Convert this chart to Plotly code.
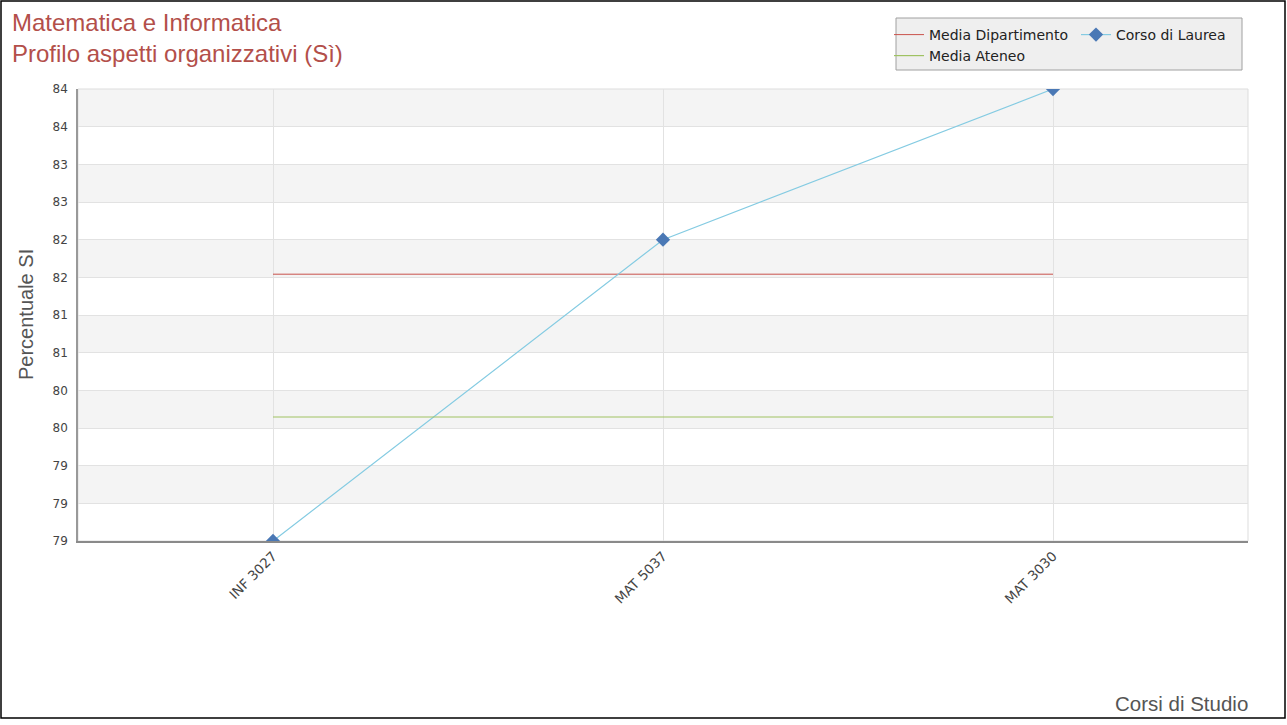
import plotly.graph_objects as go

# ---- data ----
categories = ["INF 3027", "MAT 5037", "MAT 3030"]
corso_di_laurea = [78.50, 82.34, 84.26]
media_dipartimento = [81.90, 81.90, 81.90]
media_ateneo = [80.08, 80.08, 80.08]

ytick_vals = [78.5, 78.98, 79.46, 79.94, 80.42, 80.9, 81.38, 81.86, 82.34, 82.82, 83.3, 83.78, 84.26]
ytick_text = ["79", "79", "79", "80", "80", "81", "81", "82", "82", "83", "83", "84", "84"]

title_lines = ["Matematica e Informatica", "Profilo aspetti organizzativi (Sì)"]

W, H = 1287, 725
L, R, T, B = 78, 39, 89, 184
PW, PH = W - L - R, H - T - B


def px(xp):
    return (xp - L) / PW


def py(yp):
    return (H - B - yp) / PH


fig = go.Figure()

fig.add_trace(go.Scatter(
    x=categories, y=media_dipartimento, mode="lines", name="Media Dipartimento",
    line=dict(color="#c9524c", width=1), legend="legend"))
fig.add_trace(go.Scatter(
    x=categories, y=corso_di_laurea, mode="lines+markers", name="Corso di Laurea",
    line=dict(color="#84cbe2", width=1.2),
    marker=dict(symbol="diamond", size=11, color="#4a78b5"), legend="legend2"))
fig.add_trace(go.Scatter(
    x=categories, y=media_ateneo, mode="lines", name="Media Ateneo",
    line=dict(color="#9fc262", width=1.2), legend="legend3"))

shapes = []
# alternating bands
for k in range(1, len(ytick_vals) - 1, 2):
    shapes.append(dict(type="rect", xref="paper", yref="y", x0=0, x1=1,
                       y0=ytick_vals[k], y1=ytick_vals[k + 1],
                       fillcolor="#f4f4f4", line=dict(width=0), layer="below"))
# plot border (light)
shapes.append(dict(type="rect", xref="paper", yref="paper", x0=0, x1=1, y0=0, y1=1,
                   line=dict(color="#dddddd", width=1), layer="below"))
# legend box
shapes.append(dict(type="rect", xref="paper", yref="paper",
                   x0=px(896), x1=px(1242), y0=py(70), y1=py(18),
                   fillcolor="#efefef", line=dict(color="#a0a0a0", width=1)))
# outer frame
shapes.append(dict(type="rect", xref="paper", yref="paper",
                   x0=px(1), x1=px(1285), y0=py(718), y1=py(1),
                   line=dict(color="#000000", width=1.5)))

annotations = [
    dict(text="<br>".join(title_lines), xref="paper", yref="paper",
         x=px(10), y=py(7), xanchor="left", yanchor="top", align="left",
         showarrow=False, font=dict(family="Liberation Sans, Arial", size=24, color="#b34f4a")),
    dict(text="Percentuale SI", xref="paper", yref="paper", x=px(26), y=py(315),
         xanchor="center", yanchor="middle", textangle=-90, showarrow=False,
         font=dict(family="Liberation Sans, Arial", size=20, color="#555555")),
    dict(text="Corsi di Studio", xref="paper", yref="paper", x=px(1250), y=py(703),
         xanchor="right", yanchor="middle", showarrow=False,
         font=dict(family="Liberation Sans, Arial", size=20.5, color="#555555")),
]

leg_font = dict(family="DejaVu Sans", size=14, color="#222222")
leg_common = dict(bgcolor="rgba(0,0,0,0)", borderwidth=0, font=leg_font,
                  xanchor="left", yanchor="middle", orientation="h",
                  itemwidth=30, tracegroupgap=0)

fig.update_layout(
    width=W, height=H,
    margin=dict(l=L, r=R, t=T, b=B),
    paper_bgcolor="white", plot_bgcolor="white",
    showlegend=True,
    legend=dict(x=px(889), y=py(35), **leg_common),
    legend2=dict(x=px(1076), y=py(35), **leg_common),
    legend3=dict(x=px(889), y=py(56), **leg_common),
    shapes=shapes,
    annotations=annotations,
    xaxis=dict(range=[-0.5, 2.5], showgrid=True, gridcolor="#e2e2e2", gridwidth=1,
               tickangle=-45, ticks="", showline=True, linecolor="#8a8a8a", linewidth=2,
               tickfont=dict(family="DejaVu Sans", size=13.5, color="#444444"),
               zeroline=False, fixedrange=True),
    yaxis=dict(range=[ytick_vals[0], ytick_vals[-1]], tickmode="array",
               tickvals=ytick_vals, ticktext=ytick_text,
               showgrid=True, gridcolor="#e2e2e2", gridwidth=1,
               ticks="", ticklabelstandoff=6, showline=True, linecolor="#999999", linewidth=1.5,
               tickfont=dict(family="DejaVu Sans", size=12, color="#444444"),
               zeroline=False, fixedrange=True),
)

fig.write_html("out.html", config={"displayModeBar": False},
               post_script="document.body.style.margin='0px';document.body.style.overflow='hidden';")
